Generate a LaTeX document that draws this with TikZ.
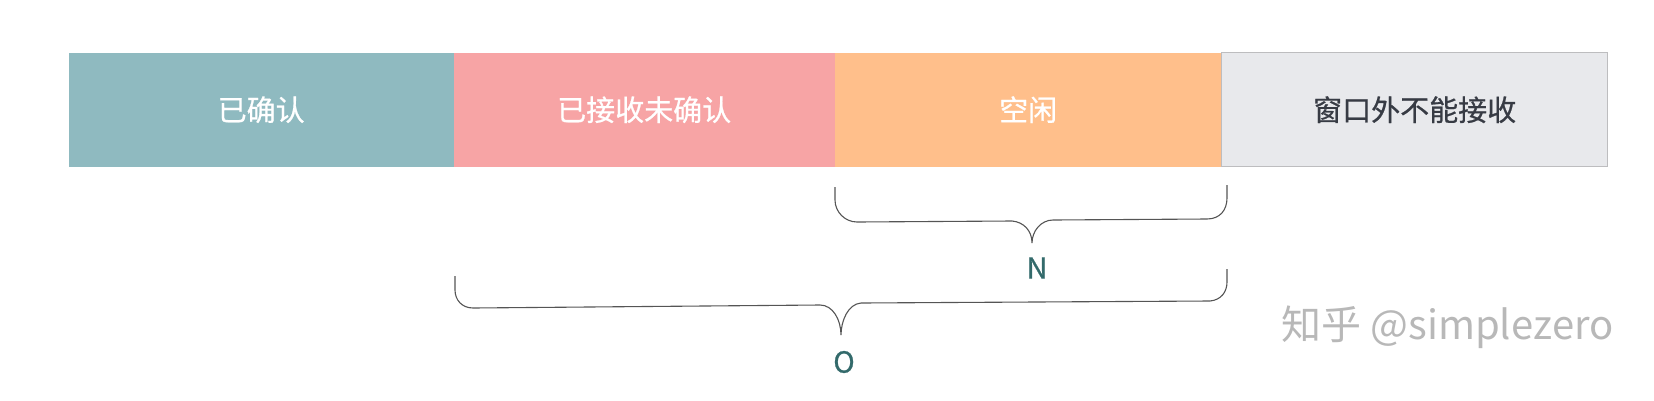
\documentclass[tikz,border=0pt]{standalone}
\usepackage{fontspec}
\setmainfont{Noto Sans CJK SC}
\newfontfamily\medfont{Noto Sans CJK SC}[FakeBold=0.7]
\usetikzlibrary{positioning}
\definecolor{ackcol}{HTML}{8FBAC0}
\definecolor{rcvcol}{HTML}{F7A4A5}
\definecolor{idlecol}{HTML}{FFBF8B}
\definecolor{outcol}{HTML}{E8E9EC}
\definecolor{outline}{HTML}{BDBDBF}
\definecolor{outtext}{HTML}{373B44}
\definecolor{bracecol}{HTML}{555555}
\definecolor{lblcol}{HTML}{336A6B}
\definecolor{wmcol}{HTML}{B8B8B8}

\begin{document}
\begin{tikzpicture}[x=1pt, y=-1pt,
  seg/.style={minimum width=385pt, minimum height=114pt, inner sep=0pt,
    outer sep=0pt, font=\medfont\fontsize{29}{34}\selectfont, text=white},
  brc/.style={draw=bracecol, line width=1.1pt},
  lbl/.style={text=lblcol, font=\medfont\fontsize{29}{34}\selectfont},
  node distance=0pt]
  \useasboundingbox (0,0) rectangle (1654,400);
  % the four parts of the window
  \node[seg, fill=ackcol, anchor=north west] (ack) at (68.7,52.7) {已确认};
  \node[seg, fill=rcvcol, minimum width=381pt] (rcv) [right = of ack] {已接收未确认};
  \node[seg, fill=idlecol, minimum width=387pt] (idle) [right = of rcv] {空闲};
  \node[seg, fill=outcol, draw=outline, line width=1pt, text=outtext,
    minimum width=386pt] (out) [right = of idle] {窗口外不能接收};
  % brace N
  \coordinate (ntip) at (1032,243);
  \draw[brc] (835,187) -- (835,200) .. controls (835,212) and (845,222) .. (857,222)
    -- (1012,221) .. controls (1024,222) and (1032,231) .. (ntip)
    .. controls (1032,231) and (1041,220) .. (1053,220)
    -- (1207,219) .. controls (1220,219) and (1227,210) .. (1227,198) -- (1227,185);
  \node[lbl] (nlbl) at (1037,268) {N};
  % brace O
  \coordinate (otip) at (841,335);
  \draw[brc] (455,276) -- (455,290) .. controls (455,300) and (462,308) .. (473,308)
    -- (820,305) .. controls (833,305) and (841,320) .. (otip)
    .. controls (841,321) and (848,304) .. (861,303)
    -- (1210,301) .. controls (1221,300) and (1227,292) .. (1227,282) -- (1227,269);
  \node[lbl] (olbl) at (844,362) {O};
  % watermark
  \node[text=wmcol, font=\fontsize{40}{46}\selectfont, anchor=west] (wm) at (1278,327) {知乎 @simplezero};
\end{tikzpicture}
\end{document}
